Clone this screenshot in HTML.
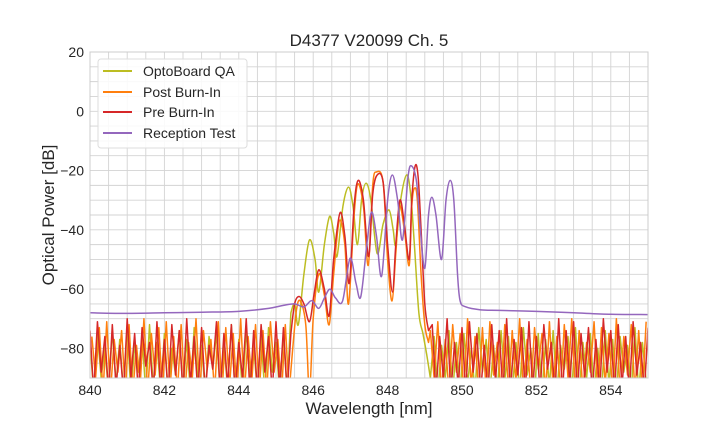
<!DOCTYPE html>
<html><head><meta charset="utf-8"><style>
html,body{margin:0;padding:0;background:#fff;}
svg{display:block;font-family:"Liberation Sans",Arial,sans-serif;}
</style></head><body>
<svg id="chart" width="720" height="432" viewBox="0 0 720 432">
<defs><clipPath id="pc"><rect x="90" y="52" width="558" height="326"/></clipPath></defs>
<rect x="90" y="52" width="558" height="326" fill="#fff"/>
<g id="grid"></g>
<g id="series" clip-path="url(#pc)"></g>
<rect x="90" y="52" width="558" height="326" fill="none" stroke="#ccc" stroke-width="1"/>
<g id="ticks"></g>
<text x="369" y="46" text-anchor="middle" font-size="17" fill="#262626">D4377 V20099 Ch. 5</text>
<text x="369" y="414" text-anchor="middle" font-size="17" fill="#262626">Wavelength [nm]</text>
<text transform="translate(54,215) rotate(-90)" text-anchor="middle" font-size="17" fill="#262626">Optical Power [dB]</text>
<g>
<rect x="98" y="59" width="149" height="89" rx="3" fill="#fff" fill-opacity="0.85" stroke="#ddd"/>
<g><line x1="103" y1="71" x2="132" y2="71" stroke="#bcbd22" stroke-width="2"/><text x="143" y="76" font-size="14" fill="#262626">OptoBoard QA</text></g>
<g><line x1="103" y1="92" x2="132" y2="92" stroke="#ff7f0e" stroke-width="2"/><text x="143" y="97" font-size="14" fill="#262626">Post Burn-In</text></g>
<g><line x1="103" y1="112" x2="132" y2="112" stroke="#d62728" stroke-width="2"/><text x="143" y="117" font-size="14" fill="#262626">Pre Burn-In</text></g>
<g><line x1="103" y1="133" x2="132" y2="133" stroke="#9467bd" stroke-width="2"/><text x="143" y="138" font-size="14" fill="#262626">Reception Test</text></g>
</g>
</svg>
<script>
const xTicks=[840,842,844,846,848,850,852,854];
const yTicks=[20,0,-20,-40,-60,-80];
const noiseStep=0.1;
// OptoBoard QA
const qaLeftStart=840.0;
const qaNoiseLeft=[-78,-95,-75,-90,-80,-95,-74,-92,-77,-95,-73,-95,-79,-88,-76,-95,-72,-93,-78,-95,-75,-95,-80,-89,-74,-95,-77,-95,-73,-91,-79,-95,-76,-87,-75,-95,-78,-94,-72,-95,-77,-95,-74,-90,-79,-95,-76,-95,-73,-88,-78,-95,-75,-95];
const qaSigWl=[845.4,845.5,845.6,845.75,845.9,846.05,846.15,846.3,846.44,846.55,846.64,846.8,846.95,847.07,847.19,847.3,847.42,847.55,847.72,847.88,848.04,848.15,848.22,848.35,848.51,848.62,848.72,848.84,848.95,849.05,849.15];
const qaSigDb=[-68,-65,-72,-55,-43.4,-50,-61,-45,-35.5,-41,-49,-32,-25.6,-32,-45,-30,-24.3,-30,-48,-38,-33.3,-40,-45,-30,-21.5,-28,-45,-68,-75,-82,-90];
const qaRightStart=849.25;
const qaNoiseRight=[-76,-95,-79,-90,-74,-95,-78,-95,-75,-92,-80,-95,-73,-88,-77,-95,-79,-95,-74,-91,-76,-95,-78,-95,-73,-89,-80,-95,-75,-95,-77,-93,-74,-95,-79,-87,-76,-95,-73,-95,-78,-90,-75,-95,-80,-95,-74,-92,-77,-95,-76,-88,-79,-95,-73,-95,-78,-91];
// Post Burn-In
const postLeftStart=840.05;
const postNoiseLeft=[-76,-90,-73,-95,-71,-95,-77,-88,-74,-95,-72,-95,-79,-92,-70,-95,-75,-89,-73,-95,-71,-94,-76,-95,-72,-95,-78,-90,-70,-95,-74,-87,-77,-95,-71,-95,-73,-93,-75,-95,-70,-95,-76,-91,-72,-95,-74,-95,-71,-88,-77,-95,-72,-95];
const postSigWl=[845.45,845.55,845.65,845.8,845.9,846.0,846.15,846.3,846.43,846.55,846.7,846.85,846.95,847.1,847.2,847.35,847.48,847.6,847.7,847.88,848.0,848.12,848.22,848.32,848.45,848.58,848.65,848.72,848.8,848.9,849.0,849.1];
const postSigDb=[-80,-67,-64,-72,-95,-70,-55,-62,-72,-55,-37,-45,-65,-35,-24.5,-32,-52,-25,-20.5,-24,-50,-64,-48,-32,-40,-52,-32,-26,-30,-55,-72,-78];
const postRightStart=849.15;
const postNoiseRight=[-74,-90,-71,-95,-77,-95,-72,-88,-75,-95,-70,-93,-76,-95,-73,-95,-71,-89,-78,-95,-72,-95,-74,-91,-70,-95,-77,-95,-73,-87,-75,-95,-71,-94,-76,-95,-72,-90,-70,-95,-74,-95,-78,-88,-71,-95,-73,-92,-75,-95,-70,-95,-76,-89,-72,-95,-74,-95,-71];
// Pre Burn-In
const preLeftStart=840.0;
const preNoiseLeft=[-74,-95,-71,-88,-76,-95,-72,-93,-79,-95,-70,-90,-75,-95,-73,-86,-78,-95,-71,-94,-77,-95,-72,-89,-74,-95,-70,-92,-76,-95,-73,-95,-79,-87,-71,-95,-75,-93,-72,-95,-78,-90,-70,-95,-74,-95,-72,-88,-76,-95,-71,-94,-73,-95];
const preSigWl=[845.4,845.5,845.62,845.75,845.9,846.02,846.15,846.3,846.43,846.55,846.72,846.85,846.97,847.1,847.21,847.35,847.49,847.6,847.72,847.88,848.0,848.13,848.22,848.33,848.45,848.58,848.65,848.74,848.82,848.9,849.0,849.1];
const preSigDb=[-75,-65,-62.5,-65,-71,-62,-53.5,-60,-69,-50,-34.3,-42,-58,-32,-23.3,-30,-49,-28,-21.5,-24,-45,-61,-45,-30,-38,-50,-30,-18.5,-22,-40,-65,-74];
const preRightStart=849.2;
const preNoiseRight=[-72,-95,-76,-90,-70,-95,-78,-93,-73,-95,-71,-88,-75,-95,-79,-95,-72,-91,-74,-95,-70,-95,-77,-89,-73,-95,-71,-94,-76,-95,-72,-87,-78,-95,-70,-95,-74,-92,-71,-95,-75,-90,-73,-95,-77,-95,-70,-88,-74,-95,-72,-93,-76,-95,-71,-89,-78,-95,-73];
// Reception Test
const recWl=[840,841,842,843,844,844.8,845.2,845.5,845.75,845.96,846.15,846.3,846.45,846.6,846.79,846.99,847.15,847.28,847.45,847.57,847.7,847.84,848.0,848.13,848.27,848.4,848.55,848.65,848.78,848.88,849.0,849.1,849.19,849.3,849.45,849.57,849.68,849.78,849.88,849.95,850.1,850.5,851,852,853,854,855];
const recDb=[-68,-68.2,-68,-67.8,-67.5,-66.5,-65.5,-65,-66,-63.9,-66.5,-63,-60,-63,-64,-49.6,-58,-62.5,-44,-34,-42,-55.6,-30,-21.5,-30,-43.4,-22,-18.5,-24,-40,-53,-35,-29,-35,-50,-30,-23.3,-30,-55,-64,-66,-67,-67.2,-67.5,-68,-68.5,-68.6];

const X0=90,X1=648,Y0=52,Y1=378;
const xS=v=>X0+(v-840)/(855-840)*(X1-X0);
const yS=v=>Y0+(20-v)/(20-(-90))*(Y1-Y0);
const NS="http://www.w3.org/2000/svg";
const grid=document.getElementById('grid'),ticks=document.getElementById('ticks'),ser=document.getElementById('series');
for(let v=840.5;v<855;v+=0.5){const l=document.createElementNS(NS,'line');


l.setAttribute('x1',xS(v));l.setAttribute('x2',xS(v));l.setAttribute('y1',Y0);l.setAttribute('y2',Y1);l.setAttribute('stroke','#d3d3d3');l.setAttribute('stroke-width','0.9');grid.appendChild(l);}
for(let v=15;v>-90;v-=5){const l=document.createElementNS(NS,'line');


l.setAttribute('y1',yS(v));l.setAttribute('y2',yS(v));l.setAttribute('x1',X0);l.setAttribute('x2',X1);l.setAttribute('stroke','#d3d3d3');l.setAttribute('stroke-width','0.9');grid.appendChild(l);}
xTicks.forEach(v=>{const t=document.createElementNS(NS,'text');


t.setAttribute('x',xS(v));t.setAttribute('y',Y1+17);t.setAttribute('text-anchor','middle');t.setAttribute('font-size','14');t.setAttribute('fill','#262626');t.textContent=v;ticks.appendChild(t);});
yTicks.forEach(v=>{const t=document.createElementNS(NS,'text');


t.setAttribute('x',X0-6);t.setAttribute('y',yS(v)+5);t.setAttribute('text-anchor','end');t.setAttribute('font-size','14');t.setAttribute('fill','#262626');t.textContent=String(v).replace('-','\u2212');ticks.appendChild(t);});
function f(p){return p[0].toFixed(2)+','+p[1].toFixed(2);}
function smoothSeg(p){let d='';
for(let i=0;i<p.length-1;i++){const a=p[i-1]||p[i],b=p[i],c=p[i+1],e=p[i+2]||c;
const c1=[b[0]+(c[0]-a[0])/6,b[1]+(c[1]-a[1])/6],c2=[c[0]-(e[0]-b[0])/6,c[1]-(e[1]-b[1])/6];
d+='C'+f(c1)+' '+f(c2)+' '+f(c);}return d;}
function noisyPath(ls,ld,sw,sd,rs,rd){
const L=ld.map((d,i)=>[xS(ls+i*noiseStep),yS(d)]);
const S=sw.map((w,i)=>[xS(w),yS(sd[i])]);
const R=rd.map((d,i)=>[xS(rs+i*noiseStep),yS(d)]);
let d='M'+f(L[0]);for(let i=1;i<L.length;i++)d+='L'+f(L[i]);
d+='L'+f(S[0])+smoothSeg(S);
R.forEach(p=>d+='L'+f(p));return d;}
function draw(d,color,name){const e=document.createElementNS(NS,'path');


e.setAttribute('d',d);e.setAttribute('fill','none');e.setAttribute('stroke',color);e.setAttribute('stroke-width','1.5');e.setAttribute('stroke-linejoin','round');ser.appendChild(e);}
draw(noisyPath(qaLeftStart,qaNoiseLeft,qaSigWl,qaSigDb,qaRightStart,qaNoiseRight),'#bcbd22','optoboard-qa-line');
draw(noisyPath(postLeftStart,postNoiseLeft,postSigWl,postSigDb,postRightStart,postNoiseRight),'#ff7f0e','post-burn-in-line');
draw(noisyPath(preLeftStart,preNoiseLeft,preSigWl,preSigDb,preRightStart,preNoiseRight),'#d62728','pre-burn-in-line');
const recP=recWl.map((w,i)=>[xS(w),yS(recDb[i])]);
draw('M'+f(recP[0])+smoothSeg(recP),'#9467bd','reception-test-line');
</script>
</body></html>
